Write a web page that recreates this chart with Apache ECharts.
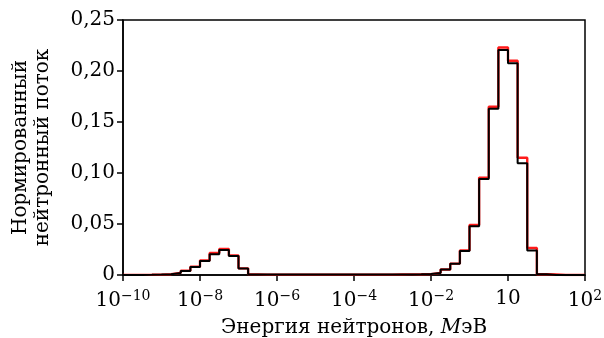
<!DOCTYPE html>
<html>
<head>
<meta charset="utf-8">
<script src="https://cdn.jsdelivr.net/npm/echarts@6/dist/echarts.min.js"></script>
<style>
  html, body { margin: 0; padding: 0; background: #fff; }
  #chart { width: 604px; height: 338px; }
</style>
</head>
<body>
<div id="chart"></div>
<script>
// Bin edges as powers of ten (four bins per decade, 1e-10 … 1e2 MeV)
const binEdgesExp = [
  -10, -9.75, -9.5, -9.25, -9, -8.75, -8.5, -8.25, -8, -7.75, -7.5, -7.25,
  -7, -6.75, -6.5, -6.25, -6, -5.75, -5.5, -5.25, -5, -4.75, -4.5, -4.25,
  -4, -3.75, -3.5, -3.25, -3, -2.75, -2.5, -2.25, -2, -1.75, -1.5, -1.25,
  -1, -0.75, -0.5, -0.25, 0, 0.25, 0.5, 0.75, 1, 1.25, 1.5, 1.75, 2
];

// Normalised flux per bin, black histogram
const fluxBlack = [
  0.0001, 0.0001, 0.0002, 0.0004, 0.0008, 0.0020, 0.0040, 0.0079,
  0.0138, 0.0203, 0.0245, 0.0186, 0.0063, 0.0006, 0.0004, 0.0004,
  0.0004, 0.0004, 0.0004, 0.0004, 0.0004, 0.0004, 0.0004, 0.0004,
  0.0004, 0.0004, 0.0004, 0.0004, 0.0005, 0.0006, 0.0007, 0.0009,
  0.0020, 0.0053, 0.0110, 0.0236, 0.0478, 0.0940, 0.1630, 0.2207,
  0.2077, 0.1095, 0.0240, 0.0007, 0.0001, 0, 0, 0
];

// Normalised flux per bin, red histogram
const fluxRed = [
  0.0001, 0.0001, 0.0002, 0.0004, 0.0008, 0.0021, 0.0041, 0.0081,
  0.0142, 0.0215, 0.0256, 0.0192, 0.0065, 0.0006, 0.0004, 0.0004,
  0.0004, 0.0004, 0.0004, 0.0004, 0.0004, 0.0004, 0.0004, 0.0004,
  0.0004, 0.0004, 0.0004, 0.0004, 0.0005, 0.0006, 0.0007, 0.0009,
  0.0021, 0.0054, 0.0112, 0.0240, 0.0490, 0.0955, 0.1650, 0.2230,
  0.2100, 0.1150, 0.0265, 0.0008, 0.0005, 0, 0, 0
];

const yTicks = ['0', '0,05', '0,10', '0,15', '0,20', '0,25'];
const xTickExps = [-10, -8, -6, -4, -2, 0, 2];
const xTickTexts = ['10{s|−10}', '10{s|−8}', '10{s|−6}', '10{s|−4}', '10{s|−2}', '10', '10{s|2}'];

const FONT = 'DejaVu Serif';

// Step polyline: each bin starts at its left edge; the last value is repeated at the final edge
function stepPoints(values) {
  const pts = values.map((v, i) => [Math.pow(10, binEdgesExp[i]), v]);
  pts.push([Math.pow(10, binEdgesExp[binEdgesExp.length - 1]), values[values.length - 1]]);
  return pts;
}

const chart = echarts.init(document.getElementById('chart'), null, { renderer: 'canvas' });

chart.setOption({
  animation: false,
  backgroundColor: '#fff',
  grid: {
    left: 123, right: 19, top: 20, bottom: 63,
    containLabel: false,
    outerBoundsMode: 'none',
    show: true, borderColor: '#000', borderWidth: 1.5, backgroundColor: 'transparent'
  },
  xAxis: {
    type: 'log',
    logBase: 10,
    min: 1e-10,
    max: 1e2,
    interval: 2,
    name: 'Энергия нейтронов, {it|М}эВ',
    nameLocation: 'middle',
    nameGap: 43,
    nameTextStyle: {
      fontFamily: FONT, fontSize: 20, color: '#000',
      rich: { it: { fontFamily: FONT, fontSize: 20, fontStyle: 'italic', color: '#000' } }
    },
    axisLine: { show: true, lineStyle: { color: '#000', width: 1.5 } },
    axisTick: { show: true, inside: false, length: 6, lineStyle: { color: '#000', width: 1.5 } },
    minorTick: { show: false },
    splitLine: { show: false },
    axisLabel: {
      margin: 14,
      color: '#000',
      fontFamily: FONT,
      fontSize: 20,
      formatter: function (v) {
        const e = Math.round(Math.log10(v));
        const k = xTickExps.indexOf(e);
        return k >= 0 ? xTickTexts[k] : '';
      },
      rich: {
        s: { fontFamily: FONT, fontSize: 14, color: '#000', verticalAlign: 'top', padding: [0, 0, 10, 0] }
      }
    }
  },
  yAxis: {
    type: 'value',
    min: 0,
    max: 0.25,
    interval: 0.05,
    name: 'Нормированный\nнейтронный поток',
    nameLocation: 'middle',
    nameGap: 69,
    nameTextStyle: { fontFamily: FONT, fontSize: 20, color: '#000', lineHeight: 22 },
    axisLine: { show: true, lineStyle: { color: '#000', width: 1.5 } },
    axisTick: { show: true, inside: false, length: 6, lineStyle: { color: '#000', width: 1.5 } },
    splitLine: { show: false },
    axisLabel: {
      margin: 8,
      color: '#000',
      fontFamily: FONT,
      fontSize: 20,
      formatter: function (v) { return yTicks[Math.round(v / 0.05)]; }
    }
  },
  series: [
    {
      name: 'red',
      type: 'line',
      step: 'end',
      symbol: 'none',
      data: stepPoints(fluxRed),
      lineStyle: { color: '#ff1a1a', width: 2.4 },
      z: 2
    },
    {
      name: 'black',
      type: 'line',
      step: 'end',
      symbol: 'none',
      data: stepPoints(fluxBlack),
      lineStyle: { color: '#000', width: 2 },
      z: 3
    }
  ]
});
</script>
</body>
</html>
